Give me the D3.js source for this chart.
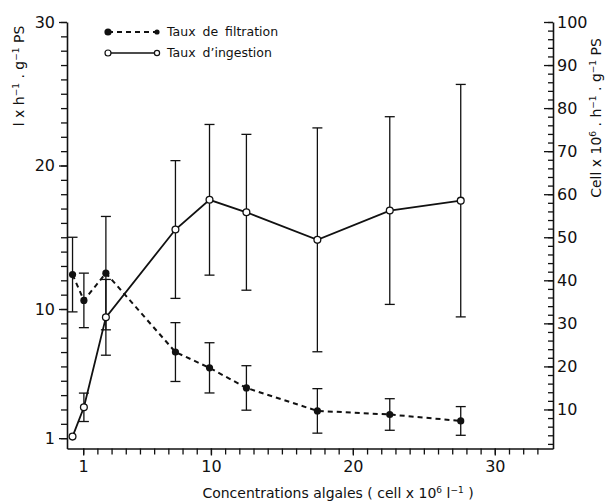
<!DOCTYPE html>
<html>
<head>
<meta charset="utf-8">
<script src="https://cdn.jsdelivr.net/npm/d3@7"></script>
<style>
  body { margin: 0; background: #fff; }
  svg text { font-family: "DejaVu Sans", sans-serif; fill: #111; }
</style>
</head>
<body>
<div id="chart"></div>
<script>
// data
const concentration = [0.25, 1.05, 2.6, 7.5, 9.9, 12.5, 17.5, 22.6, 27.6]
const filtration    = [12.4, 10.6, 12.5, 7.0, 5.9, 4.5, 2.9, 2.65, 2.2]
const filtrationErr = [2.6, 1.9, 3.95, 2.05, 1.75, 1.55, 1.55, 1.1, 1.0]
const ingestion     = [3.7, 10.5, 31.4, 51.8, 58.7, 55.8, 49.4, 56.2, 58.5]
const ingestionErr  = [0, 3.3, 8.8, 16, 17.5, 18.1, 26, 21.8, 27]

const xLabels     = [1, 10, 20, 30]
const leftLabels  = [1, 10, 20, 30]
const rightLabels = [10, 20, 30, 40, 50, 60, 70, 80, 90, 100]
const legendNames = ["Taux de filtration", "Taux d\u2019ingestion"]

const width = 609
const height = 503
const plot = { left: 67, right: 553, top: 22, bottom: 448.5 }

const svg = d3.select("#chart")
    .append("svg")
    .attr("width", width)
    .attr("height", height)

const x = d3.scaleLinear().domain([-0.14, 34.1]).range([plot.left, plot.right])
const yL = d3.scaleLinear().domain([0.28, 30]).range([plot.bottom, plot.top])
const yR = d3.scaleLinear().domain([0.93, 100]).range([plot.bottom, plot.top])

// axes: one call for the small ticks, one for the labelled ones
function styleAxis(g, size) {
    g.attr("font-family", null).attr("font-size", null)
    g.selectAll("text").style("font-size", size + "px")
    // spell out every end point of the tick lines
    g.selectAll(".tick line")
        .attr("x1", 0).attr("y1", 0)
        .attr("x2", function() { return this.getAttribute("x2") || 0 })
        .attr("y2", function() { return this.getAttribute("y2") || 0 })
        .attr("stroke", "#111").attr("stroke-width", 1.3)
    g.select(".domain").attr("stroke", "#111").attr("stroke-width", 1.6)
}

const xMinor = svg.append("g").attr("class", "xMinor").attr("transform", `translate(0,${plot.bottom})`)
    .call(d3.axisBottom(x).tickValues(d3.range(1, 34)).tickFormat("").tickSize(6).tickSizeOuter(0))
styleAxis(xMinor, 16)
const xMajor = svg.append("g").attr("class", "xMajor").attr("transform", `translate(0,${plot.bottom})`)
    .call(d3.axisBottom(x).tickValues(xLabels).tickFormat(d3.format("d")).tickSize(7).tickPadding(5).tickSizeOuter(0))
styleAxis(xMajor, 16)
xMajor.select(".domain").remove()

const yMinor = svg.append("g").attr("class", "yMinor").attr("transform", `translate(${plot.left},0)`)
    .call(d3.axisLeft(yL).tickValues(d3.range(1, 31)).tickFormat("").tickSize(6).tickSizeOuter(0))
styleAxis(yMinor, 16)
const yMajor = svg.append("g").attr("class", "yMajor").attr("transform", `translate(${plot.left},0)`)
    .call(d3.axisLeft(yL).tickValues(leftLabels).tickFormat(d3.format("d")).tickSize(8).tickPadding(4).tickSizeOuter(0))
styleAxis(yMajor, 16)
yMajor.select(".domain").remove()

// right, ticks pointing into the plot
const rMinor = svg.append("g").attr("class", "rMinor").attr("transform", `translate(${plot.right},0)`)
    .call(d3.axisRight(yR).tickValues(d3.range(2, 101, 2)).tickFormat("").tickSize(-5).tickSizeOuter(0))
styleAxis(rMinor, 16)
const rMajor = svg.append("g").attr("class", "rMajor").attr("transform", `translate(${plot.right},0)`)
    .call(d3.axisRight(yR).tickValues(rightLabels).tickFormat(d3.format("d")).tickSize(-9).tickSizeOuter(0))
styleAxis(rMajor, 16)
rMajor.select(".domain").remove()
rMajor.selectAll("text").attr("x", 4)

// axis titles
const xTitle = svg.append("text")
    .attr("x", 338).attr("y", 498)
    .attr("text-anchor", "middle")
    .style("font-size", "14px")
xTitle.append("tspan").text("Concentrations algales ( cell x 10")
xTitle.append("tspan").attr("baseline-shift", "super").style("font-size", "9px").text("6")
xTitle.append("tspan").text(" l")
xTitle.append("tspan").attr("baseline-shift", "super").style("font-size", "9px").text("\u22121")
xTitle.append("tspan").text(" )")

const lTitle = svg.append("text")
    .attr("transform", "translate(24,76) rotate(-90)")
    .attr("text-anchor", "middle")
    .style("font-size", "14px")
lTitle.append("tspan").text("l x h")
lTitle.append("tspan").attr("baseline-shift", "super").style("font-size", "9px").text("\u22121")
lTitle.append("tspan").text(" . g")
lTitle.append("tspan").attr("baseline-shift", "super").style("font-size", "9px").text("\u22121")
lTitle.append("tspan").text(" PS")

const rTitle = svg.append("text")
    .attr("transform", "translate(601,118) rotate(-90)")
    .attr("text-anchor", "middle")
    .style("font-size", "14px")
rTitle.append("tspan").text("Cell x 10")
rTitle.append("tspan").attr("baseline-shift", "super").style("font-size", "9px").text("6")
rTitle.append("tspan").text(" . h")
rTitle.append("tspan").attr("baseline-shift", "super").style("font-size", "9px").text("\u22121")
rTitle.append("tspan").text(" . g")
rTitle.append("tspan").attr("baseline-shift", "super").style("font-size", "9px").text("\u22121")
rTitle.append("tspan").text(" PS")

// series
const filtData = concentration.map((c, i) => ({ c: c, v: filtration[i], e: filtrationErr[i] }))
const ingData  = concentration.map((c, i) => ({ c: c, v: ingestion[i], e: ingestionErr[i] }))

function errorBars(data, y, cls) {
    const g = svg.append("g").attr("class", cls)
        .attr("stroke", "#111").attr("stroke-width", 1.3)
    data.filter(d => d.e > 0).forEach(d => {
        const cx = x(d.c)
        g.append("line").attr("x1", cx).attr("x2", cx).attr("y1", y(d.v - d.e)).attr("y2", y(d.v + d.e))
        g.append("line").attr("x1", cx - 5).attr("x2", cx + 5).attr("y1", y(d.v - d.e)).attr("y2", y(d.v - d.e))
        g.append("line").attr("x1", cx - 5).attr("x2", cx + 5).attr("y1", y(d.v + d.e)).attr("y2", y(d.v + d.e))
    })
}
errorBars(filtData, yL, "filtErr")
errorBars(ingData, yR, "ingErr")

svg.append("path")
    .datum(filtData)
    .attr("fill", "none").attr("stroke", "#111").attr("stroke-width", 2)
    .attr("stroke-dasharray", "5,4")
    .attr("d", d3.line().x(d => x(d.c)).y(d => yL(d.v)))

svg.append("path")
    .datum(ingData)
    .attr("fill", "none").attr("stroke", "#111").attr("stroke-width", 1.8)
    .attr("d", d3.line().x(d => x(d.c)).y(d => yR(d.v)))

svg.selectAll(".filtDot").data(filtData).enter().append("circle")
    .attr("class", "filtDot")
    .attr("cx", d => x(d.c)).attr("cy", d => yL(d.v)).attr("r", 3.6)
    .attr("fill", "#111")

svg.selectAll(".ingDot").data(ingData).enter().append("circle")
    .attr("class", "ingDot")
    .attr("cx", d => x(d.c)).attr("cy", d => yR(d.v)).attr("r", 3.4)
    .attr("fill", "#fff").attr("stroke", "#111").attr("stroke-width", 1.3)

// legend
const legend = svg.append("g").attr("class", "legend")
legend.append("line").attr("x1", 108).attr("x2", 157).attr("y1", 32).attr("y2", 32)
    .attr("stroke", "#111").attr("stroke-width", 2).attr("stroke-dasharray", "5,4")
legend.append("circle").attr("cx", 108).attr("cy", 32).attr("r", 3.6).attr("fill", "#111")
legend.append("circle").attr("cx", 157).attr("cy", 32).attr("r", 2.6).attr("fill", "#111")
legend.append("line").attr("x1", 108).attr("x2", 157).attr("y1", 53).attr("y2", 53)
    .attr("stroke", "#111").attr("stroke-width", 1.6)
legend.append("circle").attr("cx", 108).attr("cy", 53).attr("r", 3).attr("fill", "#fff").attr("stroke", "#111").attr("stroke-width", 1.2)
legend.append("circle").attr("cx", 157).attr("cy", 53).attr("r", 2.6).attr("fill", "#fff").attr("stroke", "#111").attr("stroke-width", 1.2)
legend.selectAll("text").data(legendNames).enter().append("text")
    .attr("x", 167).attr("y", (d, i) => 36 + i * 21)
    .style("font-size", "12.5px")
    .style("word-spacing", "3px")
    .text(d => d)
</script>
</body>
</html>
